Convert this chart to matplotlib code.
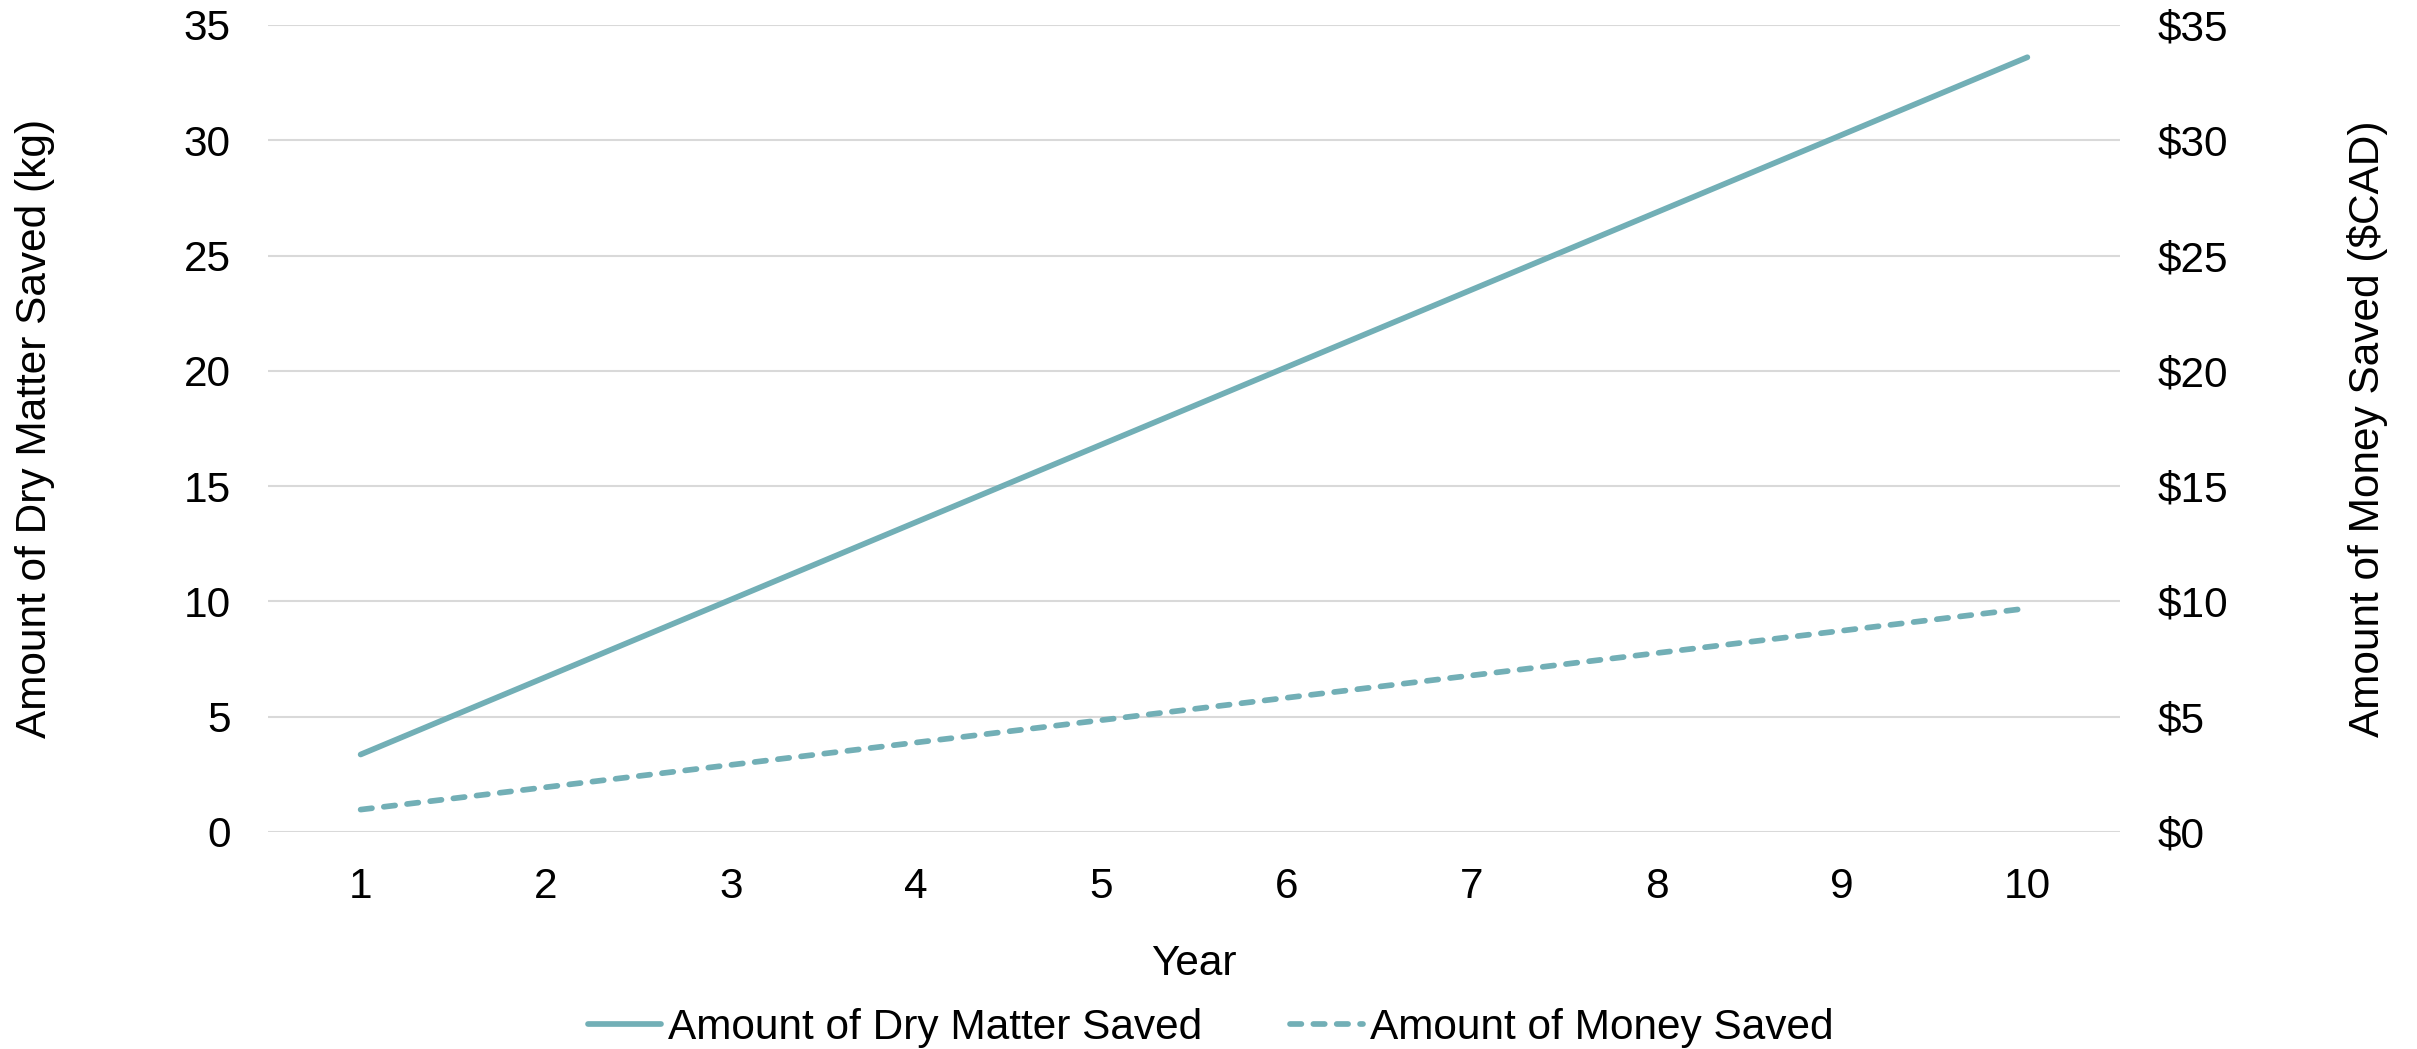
import matplotlib
matplotlib.use("Agg")
import matplotlib.pyplot as plt
from matplotlib.ticker import FuncFormatter

plt.rcParams['font.family'] = ['Liberation Sans', 'DejaVu Sans']

years = [1, 2, 3, 4, 5, 6, 7, 8, 9, 10]
dry_matter = [3.36, 6.72, 10.08, 13.44, 16.80, 20.16, 23.52, 26.88, 30.24, 33.60]
money = [0.97, 1.94, 2.91, 3.88, 4.85, 5.82, 6.79, 7.76, 8.73, 9.70]
y_ticks = [0, 5, 10, 15, 20, 25, 30, 35]

teal = "#72AFB6"
grid_col = "#D9D9D9"
fs = 30.5

fig = plt.figure(figsize=(24.17, 10.49), dpi=100)
ax = fig.add_axes([0.1109, 0.2069, 0.7662, 0.7693])
ax2 = ax.twinx()

l1, = ax.plot(years, dry_matter, color=teal, lw=4.1, solid_capstyle='round',
              label="Amount of Dry Matter Saved")
l2, = ax2.plot(years, money, color=teal, lw=4.1, linestyle=(0, (2.0, 2.1)),
               dash_capstyle='round', label="Amount of Money Saved")

for a in (ax, ax2):
    a.set_ylim(0, 35)
    a.set_yticks(y_ticks)
    a.set_xlim(0.5, 10.5)
    for s in a.spines.values():
        s.set_visible(False)
    a.tick_params(length=0, labelsize=fs, pad=27)

ax.set_xticks(years)
ax.tick_params(axis='x', pad=25)
ax.yaxis.grid(True, color=grid_col, lw=1.5)
ax.set_axisbelow(True)
ax2.yaxis.set_major_formatter(FuncFormatter(lambda v, p: "$%d" % v))

ax.set_xlabel("Year", fontsize=fs)
ax.xaxis.label.set(va='center')
ax.xaxis.set_label_coords(0.5, -0.163)

ax.set_ylabel("Amount of Dry Matter Saved (kg)", fontsize=fs)
ax.yaxis.label.set(ha='center', va='center')
ax.yaxis.set_label_coords(-0.1258, 0.5)

ax2.set_ylabel("Amount of Money Saved ($CAD)", fontsize=fs)
ax2.yaxis.label.set(ha='center', va='center')
ax2.yaxis.set_label_coords(1.1339, 0.5)

fig.legend(handles=[l1, l2], loc='center', bbox_to_anchor=(0.501, 0.02),
           ncol=2, frameon=False, fontsize=fs, handlelength=1.72,
           handletextpad=0.17, columnspacing=2.07, borderaxespad=0, borderpad=0)

fig.savefig("out.png", dpi=100)
